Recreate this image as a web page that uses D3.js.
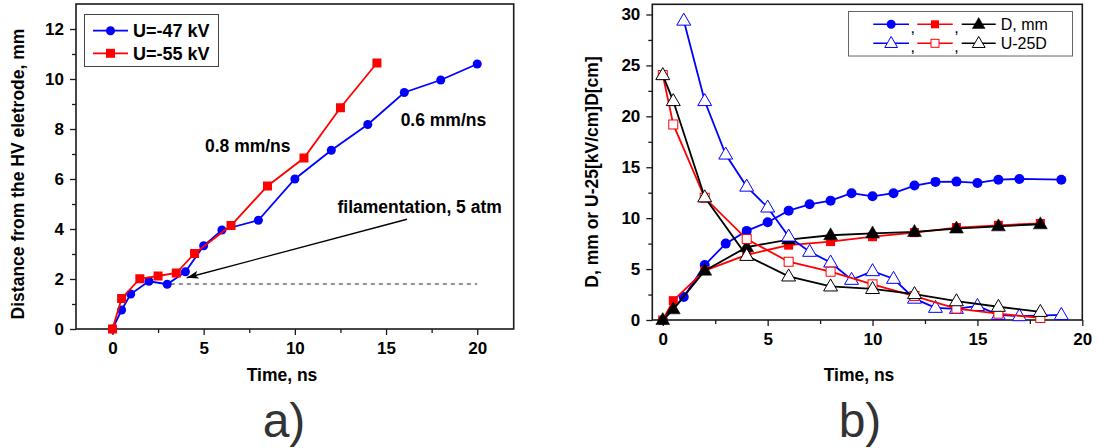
<!DOCTYPE html>
<html><head><meta charset="utf-8">
<script src="https://cdn.jsdelivr.net/npm/d3@7"></script>
<style>
body{margin:0;background:#fff;}
text{font-family:"Liberation Sans",Arial,sans-serif;}
</style></head>
<body><svg id="c" width="1098" height="448"></svg>
<script>
// ---------- Data: panel a) ----------
const aTime47 = [0,0.5,1,2,3,4,5,6,8,10,12,14,16,18,20];
const aDist47 = [0,0.76,1.4,1.91,1.79,2.29,3.33,3.96,4.35,6.0,7.15,8.18,9.46,9.96,10.6];
const aTime55 = [0,0.5,1.5,2.5,3.5,4.5,6.5,8.5,10.5,12.5,14.5];
const aDist55 = [0,1.22,2.01,2.12,2.24,3.02,4.14,5.72,6.84,8.85,10.64];
const aXTicks = [0,5,10,15,20];
const aYTicks = [0,2,4,6,8,10,12];
const aLegend = ["U=-47 kV","U=-55 kV"];
const aDashY = 1.8, aDashX = [3.2,20];
const aArrow = [[16.15,4.39],[4.07,2.05]];

// ---------- Data: panel b) ----------
const bTimeBlueD = [0,1,2,3,4,5,6,7,8,9,10,11,12,13,14,15,16,17,19];
const bBlueD     = [0,2.25,5.4,7.5,8.75,9.6,10.74,11.36,11.72,12.45,12.15,12.45,13.2,13.56,13.59,13.46,13.78,13.85,13.78];
const bTimeRB    = [0,0.5,2,4,6,8,10,12,14,16,18];
const bRedD      = [0,1.9,4.85,6.4,7.35,7.7,8.18,8.58,9.08,9.3,9.48];
const bBlackD    = [0,1.05,4.85,7.15,7.9,8.32,8.5,8.65,8.98,9.2,9.4];
const bTimeBlueU = [1,2,3,4,5,6,7,8,9,10,11,12,13,14,15,16,17,19];
const bBlueU     = [29.4,21.5,16.25,13.1,11.05,8.2,6.7,5.65,3.95,4.8,4.05,2.1,1.2,1.1,1.38,0.5,0.38,0.5];
const bRedU      = [24.05,19.2,12.0,7.95,5.72,4.74,3.5,2.35,1.12,0.62,0.2];
const bBlackU    = [24.05,21.5,12.05,6.3,4.28,3.3,3.05,2.55,1.85,1.3,0.8];
const bXTicks = [0,5,10,15,20];
const bYTicks = [0,5,10,15,20,25,30];
const bLegendRow1 = "D, mm";
const bLegendRow2 = "U-25D";

const svg = d3.select("#c");
const BLUE="#0000ff", RED="#ff0000", BLK="#000000", AX="#1a1a1a";

function axes(g, x, y, xTicks, xMinor, yTicks, yMinor){
  const [x0,x1]=x.range(), [y0,y1]=y.range();
  const xa = d3.axisBottom(x).tickValues(xTicks).tickSize(6).tickPadding(7).tickFormat(d3.format("d"));
  const xm = d3.axisBottom(x).tickValues(xMinor).tickSize(4).tickFormat("");
  const ya = d3.axisLeft(y).tickValues(yTicks).tickSize(6).tickPadding(6).tickFormat(d3.format("d"));
  const ym = d3.axisLeft(y).tickValues(yMinor).tickSize(4).tickFormat("");
  g.append("g").attr("transform",`translate(0,${y0})`).call(xa);
  g.append("g").attr("transform",`translate(0,${y0})`).call(xm);
  g.append("g").attr("transform",`translate(${x0},0)`).call(ya);
  g.append("g").attr("transform",`translate(${x0},0)`).call(ym);
  g.selectAll(".domain").remove();
  g.selectAll(".tick line").attr("stroke",AX).attr("stroke-width",1.3);
  g.selectAll(".tick text").attr("font-size",17).attr("font-weight","bold").attr("fill","#000")
    .style("font-family","'Liberation Sans',Arial,sans-serif");
  g.append("rect").attr("x",x0).attr("y",y1).attr("width",x1-x0).attr("height",y0-y1)
    .attr("fill","none").attr("stroke",AX).attr("stroke-width",1.6);
}

// ================= Panel a =================
const ax = d3.scaleLinear().domain([-2,22]).range([76,513.7]);
const ay = d3.scaleLinear().domain([0,13]).range([329,4]);
const ga = svg.append("g");
axes(ga, ax, ay, aXTicks, [2.5,7.5,12.5,17.5], aYTicks, [1,3,5,7,9,11]);

// dashed line
ga.append("line").attr("x1",ax(aDashX[0])).attr("x2",ax(aDashX[1]))
  .attr("y1",ay(aDashY)).attr("y2",ay(aDashY))
  .attr("stroke","#222").attr("stroke-width",1).attr("stroke-dasharray","4,4");

// arrow
svg.append("defs").append("marker").attr("id","arr").attr("viewBox","0 0 12 8")
  .attr("refX",12).attr("refY",4).attr("markerWidth",12).attr("markerHeight",8)
  .attr("markerUnits","userSpaceOnUse").attr("orient","auto")
  .append("path").attr("d","M0,0 L12,4 L0,8 L3,4 Z").attr("fill","#000");
ga.append("line").attr("x1",ax(aArrow[0][0])).attr("y1",ay(aArrow[0][1]))
  .attr("x2",ax(aArrow[1][0])).attr("y2",ay(aArrow[1][1]))
  .attr("stroke","#000").attr("stroke-width",1.3).attr("marker-end","url(#arr)");

const lineA = d3.line().x(d=>ax(d[0])).y(d=>ay(d[1]));
const s47 = aTime47.map((t,i)=>[t,aDist47[i]]);
const s55 = aTime55.map((t,i)=>[t,aDist55[i]]);
ga.append("path").attr("d",lineA(s47)).attr("fill","none").attr("stroke",BLUE).attr("stroke-width",1.8);
ga.selectAll(".c47").data(s47).enter().append("circle").attr("cx",d=>ax(d[0])).attr("cy",d=>ay(d[1]))
  .attr("r",4.5).attr("fill",BLUE);
ga.append("path").attr("d",lineA(s55)).attr("fill","none").attr("stroke",RED).attr("stroke-width",1.8);
ga.selectAll(".s55").data(s55).enter().append("rect").attr("x",d=>ax(d[0])-4.5).attr("y",d=>ay(d[1])-4.5)
  .attr("width",9).attr("height",9).attr("fill",RED);

// annotations
ga.append("text").attr("x",ax(5.07)).attr("y",ay(7.32)).attr("dy","0.35em")
  .attr("font-size",17.5).attr("font-weight","bold").text("0.8 mm/ns");
ga.append("text").attr("x",ax(15.8)).attr("y",ay(8.36)).attr("dy","0.35em")
  .attr("font-size",17.5).attr("font-weight","bold").text("0.6 mm/ns");
ga.append("text").attr("x",ax(21.35)).attr("y",ay(4.88)).attr("dy","0.35em").attr("text-anchor","end")
  .attr("font-size",17.5).attr("font-weight","bold").text("filamentation, 5 atm");

// legend a
const lga = ga.append("g");
lga.append("rect").attr("x",84.5).attr("y",14.5).attr("width",134).attr("height",52)
  .attr("fill","#fff").attr("stroke","#444").attr("stroke-width",1);
[[BLUE,"c"],[RED,"s"]].forEach((m,i)=>{
  const yy = 30.7 + i*22.6;
  lga.append("line").attr("x1",93).attr("x2",128).attr("y1",yy).attr("y2",yy).attr("stroke",m[0]).attr("stroke-width",1.8);
  if(m[1]==="c") lga.append("circle").attr("cx",110.5).attr("cy",yy).attr("r",4.5).attr("fill",m[0]);
  else lga.append("rect").attr("x",106).attr("y",yy-4.5).attr("width",9).attr("height",9).attr("fill",m[0]);
  lga.append("text").attr("x",133).attr("y",yy).attr("dy","0.36em").attr("font-size",18).attr("font-weight","bold").text(aLegend[i]);
});

// titles a
svg.append("text").attr("x",282).attr("y",375).attr("dy","0.35em").attr("text-anchor","middle")
  .attr("font-size",17.5).attr("font-weight","bold").text("Time, ns");
svg.append("text").attr("transform","translate(17.5,174) rotate(-90)").attr("dy","0.35em").attr("text-anchor","middle")
  .attr("font-size",17.5).attr("font-weight","bold").text("Distance from the HV eletrode, mm");
svg.append("text").attr("x",284).attr("y",437).attr("text-anchor","middle")
  .attr("font-size",48).attr("fill","#333").text("a)");

// ================= Panel b =================
const bx = d3.scaleLinear().domain([-0.5,20]).range([652.3,1082.3]);
const by = d3.scaleLinear().domain([0,31]).range([320,4.3]);
const gb = svg.append("g");
axes(gb, bx, by, bXTicks, [2.5,7.5,12.5,17.5], bYTicks, [2.5,7.5,12.5,17.5,22.5,27.5]);

const lineB = d3.line().x(d=>bx(d[0])).y(d=>by(d[1]));
const zipB = (ts,vs)=>ts.map((t,i)=>[t,vs[i]]);
const triPath = s => `M0,${-s*0.62} L${s*0.58},${s*0.38} L${-s*0.58},${s*0.38} Z`;

function drawMarker(g, type, color, open, x, y, size){
  if(type==="c"){
    g.append("circle").attr("cx",x).attr("cy",y).attr("r",size/2)
      .attr("fill",open?"#fff":color).attr("stroke",color).attr("stroke-width",open?1:0);
  } else if(type==="s"){
    g.append("rect").attr("x",x-size/2).attr("y",y-size/2).attr("width",size).attr("height",size)
      .attr("fill",open?"#fff":color).attr("stroke",color).attr("stroke-width",open?1:0);
  } else {
    g.append("path").attr("transform",`translate(${x},${y})`).attr("d",triPath(size))
      .attr("fill",open?"#fff":color).attr("stroke",color).attr("stroke-width",open?1:0.5);
  }
}

const seriesB = [
  {t:bTimeBlueD, v:bBlueD,  c:BLUE, m:"c", open:false, s:10},
  {t:bTimeRB,    v:bRedD,   c:RED,  m:"s", open:false, s:9},
  {t:bTimeRB,    v:bBlackD, c:BLK,  m:"t", open:false, s:12},
  {t:bTimeBlueU, v:bBlueU,  c:BLUE, m:"t", open:true,  s:12},
  {t:bTimeRB,    v:bRedU,   c:RED,  m:"s", open:true,  s:9},
  {t:bTimeRB,    v:bBlackU, c:BLK,  m:"t", open:true,  s:12}
];
seriesB.forEach(S=>{
  const pts = zipB(S.t,S.v);
  const g = gb.append("g");
  g.append("path").attr("d",lineB(pts)).attr("fill","none").attr("stroke",S.c).attr("stroke-width",1.8);
  pts.forEach(p=>drawMarker(g,S.m,S.c,S.open,bx(p[0]),by(p[1]),S.s));
});

// legend b
const lgb = gb.append("g");
lgb.append("rect").attr("x",848.5).attr("y",11.5).attr("width",224).attr("height",44.5)
  .attr("fill","#fff").attr("stroke","#666").attr("stroke-width",1);
const legRows = [[seriesB[0],seriesB[1],seriesB[2],bLegendRow1],[seriesB[3],seriesB[4],seriesB[5],bLegendRow2]];
const segX = [[873.3,909],[917.3,952.7],[961.7,995.7]];
legRows.forEach((row,ri)=>{
  const yy = 24.3 + ri*19;
  for(let k=0;k<3;k++){
    const S=row[k];
    lgb.append("line").attr("x1",segX[k][0]).attr("x2",segX[k][1]).attr("y1",yy).attr("y2",yy).attr("stroke",S.c).attr("stroke-width",1.5);
    drawMarker(lgb,S.m,S.c,S.open,(segX[k][0]+segX[k][1])/2,yy,S.m==="c"?9:(S.m==="s"?8:11));
    if(k<2) lgb.append("text").attr("x",segX[k][1]+1.5).attr("y",yy).attr("dy","0.55em").attr("font-size",16).text(",");
  }
  lgb.append("text").attr("x",1000.7).attr("y",yy).attr("dy","0.36em").attr("font-size",16).text(row[3]);
});

// titles b
svg.append("text").attr("x",859).attr("y",375).attr("dy","0.35em").attr("text-anchor","middle")
  .attr("font-size",17.5).attr("font-weight","bold").text("Time, ns");
svg.append("text").attr("transform","translate(591.5,172) rotate(-90)").attr("dy","0.35em").attr("text-anchor","middle")
  .attr("font-size",17.5).attr("font-weight","bold").text("D, mm or U-25[kV/cm]D[cm]");
svg.append("text").attr("x",860).attr("y",437).attr("text-anchor","middle")
  .attr("font-size",48).attr("fill","#333").text("b)");
</script></body></html>
